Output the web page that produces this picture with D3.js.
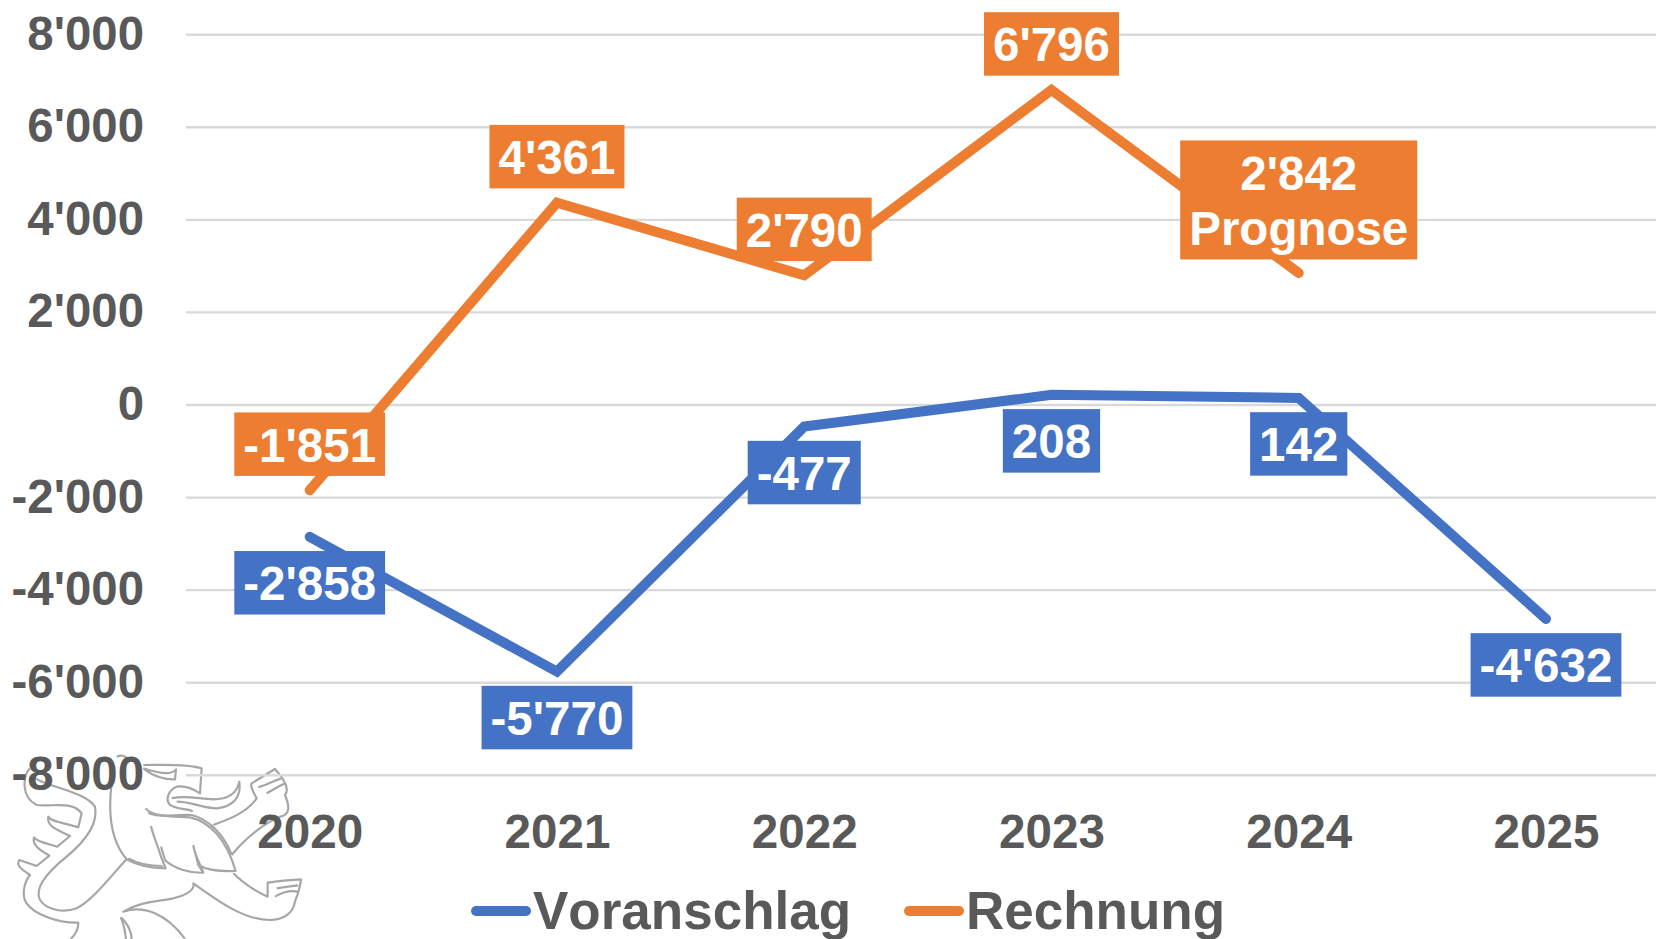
<!DOCTYPE html>
<html><head><meta charset="utf-8">
<script src="https://cdn.jsdelivr.net/npm/d3@7"></script>
<style>
html,body{margin:0;padding:0;background:#fff;overflow:hidden}
svg{display:block;font-family:"Liberation Sans",Arial,sans-serif;font-weight:bold}
</style></head><body>
<svg id="c" width="1656" height="939"></svg>
<script>
const years = [2020, 2021, 2022, 2023, 2024, 2025];
const voranschlag = [-2858, -5770, -477, 208, 142, -4632];
const rechnung = [-1851, 4361, 2790, 6796, 2842];
const yTicks = [8000, 6000, 4000, 2000, 0, -2000, -4000, -6000, -8000];
const seriesNames = ["Voranschlag", "Rechnung"];
const rechnungNotes = ["", "", "", "", "Prognose"];

const blue = "#4472C4", orange = "#ED7D31", grey = "#595959", gridCol = "#D9D9D9";
const fmt = d3.formatLocale({decimal:".", thousands:"'", grouping:[3], currency:["",""], minus:"-"}).format(",d");

const svg = d3.select("#c");
const x = d3.scalePoint().domain(years).range([309.7, 1546]);
const y = d3.scaleLinear().domain([-8000, 8000]).range([774.8, 34.2]);

// Decorative crest, traced outline
const crest = svg.append("g").attr("transform","translate(0,700) scale(0.3333)")
  .attr("fill","none").attr("stroke","#A6A6A6").attr("stroke-width",6.5).attr("stroke-linejoin","round");
[
 "M90,205 C70,225 60,290 110,315 C150,322 215,300 245,340 L235,382 C200,370 150,365 145,350 C140,375 160,385 210,408 L172,440 C140,430 110,425 102,412 C95,435 120,450 148,467 L110,498 L58,480 C48,495 60,505 90,525 C70,550 65,590 80,610 C100,640 170,670 235,668 C235,690 225,705 212,717",
 "M100,230 C130,260 250,270 285,320 C295,370 260,420 200,470 C150,510 100,560 120,600 C140,630 190,640 230,625 C280,600 330,530 380,478",
 "M350,170 C372,160 385,175 385,190 M335,250 C325,330 330,420 380,478 C410,495 450,505 497,505 L483,470 C475,440 460,410 453,378",
 "M385,475 C415,492 450,498 488,498",
 "M430,195 C480,195 560,190 605,205 L600,280 C585,270 560,255 530,260 C505,270 495,300 510,315 C530,330 570,325 578,335",
 "M515,295 C550,285 590,295 640,298 C680,298 710,285 718,245 C725,290 700,320 650,325 C610,325 575,305 530,305",
 "M430,205 C460,230 500,240 525,238 L528,208 C515,225 480,222 430,205",
 "M437,325 C455,350 520,350 570,352 C630,365 680,420 707,513 C660,515 620,510 595,495 L610,518 C570,520 520,505 495,480 L483,440",
 "M445,338 C470,355 530,342 575,345 C630,358 675,410 695,465",
 "M580,435 C585,470 600,490 610,518 M595,495 C590,470 583,455 580,435",
 "M640,375 C680,360 740,340 770,295 C760,275 750,260 755,250 L825,207 C840,225 850,235 850,240 C860,255 865,275 855,285 C870,320 870,345 840,350 C800,365 740,410 695,465",
 "M775,262 C800,255 825,240 845,235 M800,280 C820,270 840,255 858,250",
 "M700,520 C730,550 770,575 803,590 L803,548 C830,543 870,540 903,538 C900,570 890,590 885,605 C880,640 850,660 810,660 C730,660 650,600 580,550 C585,570 560,585 520,595 C470,605 420,605 370,635 C430,615 500,640 555,717",
 "M825,590 C850,575 870,570 895,575 M830,565 C855,560 875,558 895,556",
 "M362,652 C385,670 395,700 395,717 M362,652 C375,680 375,700 378,717"
].forEach(d => crest.append("path").attr("d", d));

// Y axis with gridlines
const yAxis = svg.append("g").attr("transform","translate(186,0)")
  .call(d3.axisLeft(y).tickValues(yTicks).tickFormat(fmt).tickSize(-1484).tickPadding(42));
yAxis.select(".domain").remove();
yAxis.selectAll(".tick line").attr("stroke",gridCol).attr("stroke-width",2.4);
yAxis.selectAll(".tick text").attr("fill",grey).attr("font-size",47.4).attr("font-family","inherit").attr("font-weight","bold").attr("dy",15);

// X axis
const xAxis = svg.append("g").attr("transform","translate(0,774.8)")
  .call(d3.axisBottom(x).tickSize(0).tickPadding(0).tickFormat(d3.format("d")));
xAxis.select(".domain").remove();
xAxis.selectAll(".tick text").attr("fill",grey).attr("font-size",47.6).attr("font-family","inherit").attr("font-weight","bold")
  .attr("dy",0).attr("y",73);

// Lines
const line = d3.line().x((d,i)=>x(years[i])).y(d=>y(d));
[[voranschlag,blue],[rechnung,orange]].forEach(([vals,col])=>{
  svg.append("path").attr("d",line(vals)).attr("fill","none").attr("stroke",col)
    .attr("stroke-width",10).attr("stroke-linecap","round").attr("stroke-linejoin","miter");
});

// Data labels
function labels(vals,col,offset,notes){
  vals.forEach((v,i)=>{
    const note = notes ? notes[i] : "";
    const lines = note ? [fmt(v), note] : [fmt(v)];
    const g = svg.append("g");
    const cy = y(v) + (note ? -73 : offset);
    const cx = x(years[i]);
    const lh = 55;
    const texts = lines.map((t,k)=> g.append("text").attr("x",cx)
      .attr("y",cy + (k-(lines.length-1)/2)*lh + 17.5).attr("text-anchor","middle")
      .attr("fill","#fff").attr("font-size",47.5).text(t));
    const w = d3.max(texts,t=>t.node().getComputedTextLength()) + 18;
    const h = note ? 119 : 63.5;
    g.insert("rect","text").attr("x",cx-w/2).attr("y",cy-h/2).attr("width",w).attr("height",h).attr("fill",col);
  });
}
labels(voranschlag,blue,46);
labels(rechnung,orange,-46,rechnungNotes);

// Legend
const legX = [472, 905], legY = 911;
seriesNames.forEach((n,i)=>{
  svg.append("line").attr("x1",legX[i]+4).attr("x2",legX[i]+54).attr("y1",legY).attr("y2",legY)
    .attr("stroke",i?orange:blue).attr("stroke-width",10).attr("stroke-linecap","round");
  svg.append("text").attr("x",legX[i]+61).attr("y",legY+18).attr("fill",grey).attr("font-size",53)
    .style("font-kerning","none").text(n);
});
</script></body></html>
